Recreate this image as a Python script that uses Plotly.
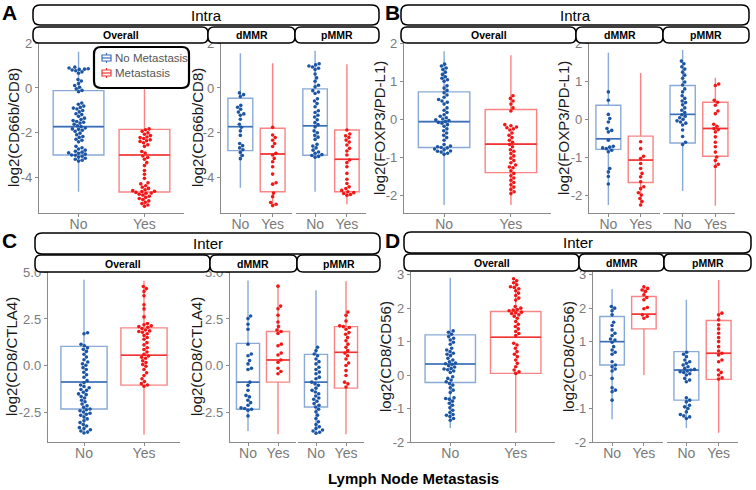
import math
import plotly.graph_objects as go

# ---------------- data ----------------
CATS = ["No", "Yes"]
FACETS = ["Overall", "dMMR", "pMMR"]
PANEL_LETTERS = ["A", "B", "C", "D"]
PANEL_STRIPS = ["Intra", "Intra", "Inter", "Inter"]
Y_TITLES = ["log2(CD66b/CD8)", "log2(FOXP3/PD-L1)", "log2(CD8/CTLA4)", "log2(CD8/CD56)"]
LEGEND_LABELS = ["No Metastasis", "Metastasis"]
X_TITLE = "Lymph Node Metastasis"

A_YTICKS = [-4, -2, 0, 2]
B_YTICKS = [-2, -1, 0, 1, 2]
C_YTICKS = [-2.5, 0.0, 2.5, 5.0]
D_YTICKS = [-2, -1, 0, 1, 2, 3]
A_YTEXT = ["-4", "-2", "0", "2"]
B_YTEXT = ["-2", "-1", "0", "1", "2"]
C_YTEXT = ["-2.5", "0.0", "2.5", "5.0"]
D_YTEXT = ["-2", "-1", "0", "1", "2", "3"]

# box statistics, order: Overall-No, Overall-Yes, dMMR-No, dMMR-Yes, pMMR-No, pMMR-Yes
A_LO = [-4.64, -5.30, -4.46, -5.26, -4.64, -5.20]
A_Q1 = [-3.00, -4.65, -2.80, -4.64, -3.01, -4.64]
A_MED = [-1.73, -3.00, -1.73, -2.95, -1.69, -3.19]
A_Q3 = [-0.12, -1.85, -0.46, -1.80, -0.04, -1.88]
A_HI = [1.62, 1.10, 1.55, 1.10, 1.66, 1.06]

B_LO = [-2.25, -2.25, -2.25, -2.27, -1.88, -2.27]
B_Q1 = [-0.74, -1.40, -0.79, -1.66, -0.62, -0.97]
B_MED = [-0.06, -0.65, -0.51, -1.07, 0.13, -0.24]
B_Q3 = [0.72, 0.26, 0.37, -0.44, 0.89, 0.45]
B_HI = [1.79, 1.68, 1.75, 1.22, 1.82, 1.09]

C_LO = [-3.55, -3.70, -3.51, -3.69, -3.69, -3.69]
C_Q1 = [-2.33, -1.05, -2.34, -0.89, -2.22, -1.21]
C_MED = [-0.88, 0.55, -0.89, 0.30, -0.89, 0.71]
C_Q3 = [1.03, 2.02, 1.19, 1.83, 0.60, 2.09]
C_HI = [4.61, 4.55, 4.57, 4.29, 4.04, 4.52]

D_LO = [-1.58, -1.72, -1.32, 0.00, -1.58, -1.72]
D_Q1 = [-0.22, 0.05, 0.30, 1.38, -0.75, -0.13]
D_MED = [0.33, 1.13, 1.00, 1.82, 0.15, 0.65]
D_Q3 = [1.20, 1.90, 1.75, 2.35, 0.70, 1.63]
D_HI = [2.91, 2.84, 2.57, 2.66, 2.25, 2.84]

# individual points
A_OV_NO = [0.93, 0.89, 0.86, 0.84, 0.83, 0.80, 0.77, 0.72, 0.66, 0.38, 0.31, 0.20, 0.11, 0.03, -0.04, -0.11,
           -0.17, -0.67, -0.73, -0.81, -0.87, -0.90, -0.94, -1.01, -1.07, -1.15, -1.19, -1.27, -1.35, -1.41,
           -1.46, -1.50, -1.53, -1.57, -1.62, -1.69, -1.73, -1.79, -1.83, -1.85, -1.89, -1.94, -2.02, -2.09,
           -2.17, -2.21, -2.29, -2.34, -2.41, -2.61, -2.67, -2.73, -2.78, -2.83, -2.87, -2.90, -2.92, -2.96,
           -3.00, -3.01, -3.05, -3.09, -3.14, -3.19, -3.23, -3.27]
A_OV_YES = [-1.83, -1.87, -1.94, -2.01, -2.07, -2.13, -2.19, -2.22, -2.26, -2.32, -2.36, -2.39, -2.45, -2.54,
            -2.61, -2.84, -2.91, -3.04, -3.11, -3.19, -3.34, -3.47, -3.69, -3.86, -4.04, -4.24, -4.29, -4.37,
            -4.44, -4.49, -4.55, -4.59, -4.62, -4.63, -4.67, -4.70, -4.71, -4.75, -4.79, -4.84, -4.89, -4.94,
            -4.99, -5.05, -5.11, -5.17, -5.23, -5.29]
A_D_NO = [-0.22, -0.30, -0.38, -0.78, -0.86, -0.95, -1.08, -1.16, -1.22, -1.40, -1.62, -1.76, -1.92, -2.12,
          -2.48, -2.58, -2.68, -2.76, -2.88, -3.02, -3.16]
A_D_YES = [-1.76, -2.10, -2.22, -2.34, -2.48, -2.62, -2.92, -3.00, -3.15, -3.30, -3.52, -3.85, -4.24, -4.30,
           -4.70, -4.86, -5.12, -5.20, -5.26]
A_P_NO = [1.08, 1.03, 0.98, 0.94, 0.88, 0.82, 0.62, 0.45, 0.30, 0.12, 0.05, -0.12, -0.18, -0.25, -0.48, -0.58,
          -0.70, -0.84, -1.02, -1.10, -1.22, -1.30, -1.42, -1.55, -1.64, -1.74, -1.92, -2.00, -2.12, -2.20,
          -2.30, -2.52, -2.60, -2.68, -2.78, -2.86, -2.92, -2.98, -3.02, -3.06, -3.10]
A_P_YES = [-1.88, -2.06, -2.14, -2.22, -2.33, -2.42, -2.55, -2.70, -2.82, -3.00, -3.22, -3.34, -3.52, -3.82,
           -4.08, -4.27, -4.42, -4.50, -4.58, -4.64, -4.68, -4.72, -4.76, -4.80]

B_OV_NO = [1.45, 1.40, 1.35, 1.31, 1.24, 1.18, 1.12, 1.08, 1.04, 0.88, 0.82, 0.76, 0.70, 0.64, 0.58, 0.52,
           0.48, 0.45, 0.30, 0.24, 0.18, 0.12, 0.08, 0.04, 0.01, -0.03, -0.06, -0.10, -0.14, -0.18, -0.25,
           -0.30, -0.36, -0.42, -0.48, -0.55, -0.66, -0.70, -0.72, -0.75, -0.78, -0.80, -0.83, -0.86, -0.89,
           -0.92, 1.00, 0.40, -0.01, -0.08, -0.74, -0.84]
B_OV_YES = [0.62, 0.55, 0.48, 0.40, 0.30, 0.22, -0.14, -0.17, -0.20, -0.22, -0.25, -0.36, -0.42, -0.48, -0.55,
            -0.60, -0.66, -0.72, -0.84, -0.90, -0.96, -1.02, -1.08, -1.14, -1.20, -1.27, -1.35, -1.42, -1.48,
            -1.54, -1.60, -1.66, -1.72, -1.78, -1.84, -1.90, -1.95, -0.28, -0.80, -1.25]
B_D_NO = [0.72, 0.50, 0.13, 0.02, -0.07, -0.24, -0.29, -0.33, -0.55, -0.71, -0.73, -0.75, -0.77, -0.81, -0.85,
          -1.29, -1.38, -1.50, -1.70]
B_D_YES = [-0.59, -0.77, -0.97, -1.03, -1.16, -1.29, -1.42, -1.51, -1.64, -1.77, -1.82, -1.93, -1.99, -2.08,
           -2.16, -2.25]
B_P_NO = [1.53, 1.46, 1.38, 1.32, 1.24, 1.16, 1.08, 0.98, 0.90, 0.80, 0.72, 0.62, 0.55, 0.48, 0.44, 0.38, 0.30,
          0.24, 0.18, 0.12, 0.08, 0.04, 0.00, -0.04, -0.07, -0.10, -0.15, -0.28, -0.45, -0.60, -0.66]
B_P_YES = [0.93, 0.89, 0.50, 0.45, 0.37, 0.22, 0.15, -0.13, -0.18, -0.24, -0.27, -0.33, -0.46, -0.60, -0.72,
           -0.86, -0.99, -1.08, -1.18, -1.24]

C_OV_NO = [1.76, 1.71, 1.14, 1.06, 0.95, 0.87, 0.76, 0.61, 0.46, 0.31, 0.19, 0.10, 0.02, -0.11, -0.21, -0.36,
           -0.49, -0.63, -0.81, -0.92, -1.04, -1.12, -1.19, -1.28, -1.33, -1.43, -1.52, -1.56, -1.66, -1.74,
           -1.86, -1.94, -2.06, -2.16, -2.24, -2.33, -2.37, -2.42, -2.49, -2.56, -2.61, -2.67, -2.76, -2.86,
           -2.96, -3.06, -3.16, -3.24, -3.33, -3.38, -3.44, -3.51, -3.57, -3.62]
C_OV_YES = [4.24, 4.13, 3.98, 3.74, 3.26, 3.04, 2.61, 2.26, 2.19, 2.13, 2.06, 1.99, 1.91, 1.86, 1.79, 1.71,
            1.61, 1.51, 1.41, 1.23, 1.11, 0.96, 0.86, 0.73, 0.61, 0.51, 0.39, 0.26, 0.16, 0.06, -0.04, -0.21,
            -0.39, -0.53, -0.71, -0.86, -0.97, -1.04, -1.11, 2.09, 1.83, 0.45]
C_D_NO = [2.66, 2.52, 2.22, 1.95, 1.15, 0.62, 0.53, 0.27, 0.09, -0.14, -0.21, -0.89, -1.06, -1.33, -1.60,
          -1.68, -1.86, -1.99, -2.13, -2.27, -2.30, -2.34, -2.39, -2.70]
C_D_YES = [4.26, 3.19, 3.05, 2.70, 2.34, 2.09, 1.91, 1.83, 1.72, 1.15, 1.06, 0.67, 0.57, 0.30, 0.18, -0.14,
           -0.32, -0.44]
C_P_NO = [0.98, 0.80, 0.62, 0.53, 0.35, 0.21, 0.09, -0.09, -0.21, -0.35, -0.44, -0.62, -0.71, -0.89, -0.98,
          -1.06, -1.21, -1.33, -1.42, -1.51, -1.63, -1.74, -1.81, -1.91, -2.04, -2.13, -2.22, -2.34, -2.48,
          -2.66, -2.84, -3.01, -3.16, -3.28, -3.37, -3.46, -3.51, -3.58, -3.63]
C_P_YES = [2.87, 2.70, 2.39, 2.13, 2.09, 2.04, 1.95, 1.77, 1.68, 1.51, 1.33, 1.15, 0.98, 0.80, 0.67, 0.53,
           0.35, 0.14, 0.00, -0.27, -0.53, -0.89, -0.98, -1.15]

D_OV_NO = [1.32, 1.28, 1.22, 1.15, 1.10, 1.05, 0.98, 0.92, 0.80, 0.75, 0.70, 0.65, 0.58, 0.50, 0.45, 0.40,
           0.36, 0.32, 0.28, 0.24, 0.20, 0.16, 0.12, 0.08, -0.05, -0.10, -0.15, -0.20, -0.25, -0.30, -0.38,
           -0.45, -0.52, -0.68, -0.72, -0.78, -0.84, -0.90, -0.98, -1.05, -1.12, -1.18, -1.24, -1.30, -1.35,
           0.62, 0.34, 0.18, -0.70, -1.20]
D_OV_YES = [2.88, 2.82, 2.76, 2.70, 2.64, 2.58, 2.52, 2.45, 2.38, 2.30, 2.24, 2.05, 2.00, 1.96, 1.92, 1.88,
            1.84, 1.80, 1.76, 1.70, 1.60, 1.52, 1.45, 1.38, 1.30, 1.24, 1.18, 0.95, 0.90, 0.80, 0.70, 0.62,
            0.55, 0.45, 0.35, 0.25, 0.15, 0.10, 0.05, 1.94, 1.86, 2.62]
D_D_NO = [2.05, 2.00, 1.92, 1.80, 1.58, 1.48, 1.35, 1.25, 1.18, 1.08, 1.05, 0.98, 0.85, 0.75, 0.68, 0.62, 0.40,
          0.30, 0.25, 0.18, 0.12, -0.10, -0.38, -0.45, -0.50, -0.75]
D_D_YES = [2.64, 2.59, 2.54, 2.50, 2.40, 2.32, 2.25, 2.02, 1.98, 1.80, 1.75, 1.70]
D_P_NO = [0.68, 0.62, 0.55, 0.45, 0.35, 0.30, 0.25, 0.20, 0.15, 0.12, 0.10, 0.08, 0.04, 0.00, -0.10, -0.15,
          -0.20, -0.68, -0.75, -0.80, -0.90, -0.95, -1.00, -1.10, -1.18, -1.22, -1.25, -1.30, 0.40, 0.17]
D_P_YES = [1.85, 1.80, 1.65, 1.50, 1.38, 1.25, 1.12, 1.00, 0.85, 0.72, 0.65, 0.60, 0.45, 0.40, 0.15, 0.08,
           0.00, -0.08, -0.12]

# ---------------- styling / layout geometry (pixels) ----------------
W, H = 756, 490
FONT = "Liberation Sans, Arial, Helvetica, sans-serif"
BLUE_PT, RED_PT = "#1B55A3", "#F21616"
BLUE_BOX, RED_BOX = "rgba(40,100,180,0.55)", "rgba(245,30,30,0.55)"
BLUE_MED, RED_MED = "#3A6FB8", "#F03434"
AXIS_COL = "#8a8a8a"
TICK_COL = "#7a7a7a"

PANELS = [
    dict(ov=(39, 184), d=(221, 292), p=(296, 366), y=(43, 213), yr=(-5.59, 2.01),
         top=(33, 379, 5, 25), sub_y=(27, 43), subs=[(33, 208), (208, 295), (295, 379)],
         letter=(9, 13), ytl=13, ytr=197,
         lo=A_LO, q1=A_Q1, med=A_MED, q3=A_Q3, hi=A_HI,
         pts=[A_OV_NO, A_OV_YES, A_D_NO, A_D_YES, A_P_NO, A_P_YES], ticks=(A_YTICKS, A_YTEXT)),
    dict(ov=(404, 551), d=(589, 660), p=(663, 735), y=(43, 213), yr=(-2.46, 2.005),
         top=(401, 749, 5, 25), sub_y=(27, 43), subs=[(401, 576), (576, 663), (663, 749)],
         letter=(392, 13), ytl=379, ytr=563,
         lo=B_LO, q1=B_Q1, med=B_MED, q3=B_Q3, hi=B_HI,
         pts=[B_OV_NO, B_OV_YES, B_D_NO, B_D_YES, B_P_NO, B_P_YES], ticks=(B_YTICKS, B_YTEXT)),
    dict(ov=(48, 180), d=(230, 296), p=(298, 364), y=(272, 442), yr=(-4.10, 5.02),
         top=(35, 380, 233, 254), sub_y=(255, 272), subs=[(35, 210), (210, 297), (297, 380)],
         letter=(9, 240), ytl=11, ytr=196,
         lo=C_LO, q1=C_Q1, med=C_MED, q3=C_Q3, hi=C_HI,
         pts=[C_OV_NO, C_OV_YES, C_D_NO, C_D_YES, C_P_NO, C_P_YES], ticks=(C_YTICKS, C_YTEXT)),
    dict(ov=(411, 555), d=(593, 663), p=(667, 738), y=(272, 442), yr=(-2.0, 3.08),
         top=(404, 751, 232, 253), sub_y=(254, 271), subs=[(404, 579), (579, 664), (664, 751)],
         letter=(392, 240), ytl=385, ytr=568,
         lo=D_LO, q1=D_Q1, med=D_MED, q3=D_Q3, hi=D_HI,
         pts=[D_OV_NO, D_OV_YES, D_D_NO, D_D_YES, D_P_NO, D_P_YES], ticks=(D_YTICKS, D_YTEXT)),
]


def fx(px):
    return px / W


def fy(py):
    return 1 - py / H


def swarm(vals, ppu_y, ppu_x, d=3.7):
    """Deterministic beeswarm offsets (data units along x)."""
    order = sorted(range(len(vals)), key=lambda i: vals[i])
    placed = []
    out = [0.0] * len(vals)
    for i in order:
        y = vals[i] * ppu_y
        cands = [0.0]
        for (px, py) in placed:
            dy = abs(py - y)
            if dy < d:
                dx = math.sqrt(d * d - dy * dy)
                cands += [px + dx, px - dx]
        cands.sort(key=lambda c: (round(abs(c), 6), -c))
        chosen = 0.0
        for c in cands:
            if all((c - px) ** 2 + (y - py) ** 2 >= d * d - 1e-6 for (px, py) in placed):
                chosen = c
                break
        placed.append((chosen, y))
        out[i] = chosen / ppu_x
    return out


def rrect(x0, y0, x1, y1, r):
    X = lambda p: f"{fx(p):.5f}"
    Y = lambda p: f"{fy(p):.5f}"
    return (f"M {X(x0 + r)},{Y(y0)} L {X(x1 - r)},{Y(y0)} Q {X(x1)},{Y(y0)} {X(x1)},{Y(y0 + r)} "
            f"L {X(x1)},{Y(y1 - r)} Q {X(x1)},{Y(y1)} {X(x1 - r)},{Y(y1)} "
            f"L {X(x0 + r)},{Y(y1)} Q {X(x0)},{Y(y1)} {X(x0)},{Y(y1 - r)} "
            f"L {X(x0)},{Y(y0 + r)} Q {X(x0)},{Y(y0)} {X(x0 + r)},{Y(y0)} Z")


fig = go.Figure()
layout = {}
shapes = []
annotations = []
count = {"x": 0, "y": 0}


def new_axis(kind):
    count[kind] += 1
    n = count[kind]
    return (kind if n == 1 else f"{kind}{n}"), (f"{kind}axis" if n == 1 else f"{kind}axis{n}")


XR = [-0.6, 1.6]
BOXW = 0.77
common = dict(showgrid=False, zeroline=False, showline=True, linecolor=AXIS_COL, linewidth=1.4,
              ticks="outside", ticklen=3, tickwidth=1, tickcolor=AXIS_COL, automargin=False,
              fixedrange=True)

for pi, P in enumerate(PANELS):
    y0, y1 = P["y"]
    yd = [fy(y1), fy(y0)]
    xo, xok = new_axis("x")
    yo, yok = new_axis("y")
    xd, xdk = new_axis("x")
    yrr, yrk = new_axis("y")
    xp, xpk = new_axis("x")
    tv, tt = P["ticks"]
    for key, dom, anc in [(xok, P["ov"], yo), (xdk, P["d"], yrr), (xpk, P["p"], yrr)]:
        layout[key] = dict(domain=[fx(dom[0]), fx(dom[1])], range=XR, anchor=anc,
                           tickvals=[0, 1], ticktext=CATS, ticklabelstandoff=-5,
                           tickfont=dict(family=FONT, size=14, color=TICK_COL), **common)
    for key, anc in [(yok, xo), (yrk, xd)]:
        layout[key] = dict(domain=yd, range=list(P["yr"]), anchor=anc, tickvals=tv, ticktext=tt,
                           tickfont=dict(family=FONT, size=13, color=TICK_COL), **common)

    ppu_y = (y1 - y0) / (P["yr"][1] - P["yr"][0])
    facet_axes = [(xo, yo, P["ov"]), (xd, yrr, P["d"]), (xp, yrr, P["p"])]
    for fi, (xa, ya, dom) in enumerate(facet_axes):
        ppu_x = (dom[1] - dom[0]) / (XR[1] - XR[0])
        for ci in range(2):
            k = fi * 2 + ci
            boxc = BLUE_BOX if ci == 0 else RED_BOX
            medc = BLUE_MED if ci == 0 else RED_MED
            ptc = BLUE_PT if ci == 0 else RED_PT
            fig.add_trace(go.Box(x=[ci], q1=[P["q1"][k]], median=[P["med"][k]], q3=[P["q3"][k]],
                                 lowerfence=[P["lo"][k]], upperfence=[P["hi"][k]],
                                 width=BOXW, whiskerwidth=0, boxpoints=False,
                                 line=dict(color=boxc, width=1.4), fillcolor="rgba(255,255,255,0)",
                                 xaxis=xa, yaxis=ya, showlegend=False, hoverinfo="skip"))
            fig.add_trace(go.Scatter(x=[ci - BOXW / 2, ci + BOXW / 2], y=[P["med"][k]] * 2, mode="lines",
                                     line=dict(color=medc, width=1.6), xaxis=xa, yaxis=ya,
                                     showlegend=False, hoverinfo="skip"))
            vals = P["pts"][k]
            offs = swarm(vals, ppu_y, ppu_x)
            fig.add_trace(go.Scatter(x=[ci + o for o in offs], y=vals, mode="markers",
                                     marker=dict(color=ptc, size=3.6, line=dict(width=0)),
                                     xaxis=xa, yaxis=ya, showlegend=False, hoverinfo="skip"))

    # strips
    tx0, tx1, ty0, ty1 = P["top"]
    shapes.append(dict(type="path", xref="paper", yref="paper", path=rrect(tx0, ty0, tx1, ty1, 7),
                       line=dict(color="black", width=1.5), fillcolor="white", layer="above"))
    annotations.append(dict(x=fx((tx0 + tx1) / 2), y=fy((ty0 + ty1) / 2), xref="paper", yref="paper",
                            text=PANEL_STRIPS[pi], showarrow=False, xanchor="center", yanchor="middle",
                            font=dict(family=FONT, size=15, color="black")))
    sy0, sy1 = P["sub_y"]
    for (sx0, sx1), name in zip(P["subs"], FACETS):
        shapes.append(dict(type="path", xref="paper", yref="paper", path=rrect(sx0, sy0, sx1, sy1, 6),
                           line=dict(color="black", width=1.5), fillcolor="white", layer="above"))
        annotations.append(dict(x=fx((sx0 + sx1) / 2), y=fy((sy0 + sy1) / 2), xref="paper", yref="paper",
                                text=f"<b>{name}</b>", showarrow=False, xanchor="center", yanchor="middle",
                                font=dict(family=FONT, size=10.5, color="black")))
    # panel letter
    lx, ly = P["letter"]
    annotations.append(dict(x=fx(lx), y=fy(ly), xref="paper", yref="paper", text=f"<b>{PANEL_LETTERS[pi]}</b>",
                            showarrow=False, xanchor="center", yanchor="middle",
                            font=dict(family=FONT, size=21, color="black")))
    # y titles
    for xt in (P["ytl"], P["ytr"]):
        annotations.append(dict(x=fx(xt), y=fy((y0 + y1) / 2), xref="paper", yref="paper", text=Y_TITLES[pi],
                                textangle=-90, showarrow=False, xanchor="center", yanchor="middle",
                                font=dict(family=FONT, size=15, color="#1a1a1a")))

# legend (custom, rounded box)
shapes.append(dict(type="path", xref="paper", yref="paper", path=rrect(94, 47, 189, 88, 7),
                   line=dict(color="black", width=2.2), fillcolor="white", layer="above"))
for row, (lab, col) in enumerate(zip(LEGEND_LABELS, [BLUE_MED, RED_MED])):
    cy = 58 + row * 15
    shapes.append(dict(type="rect", xref="paper", yref="paper", x0=fx(102), x1=fx(111), y0=fy(cy - 3),
                       y1=fy(cy + 3), line=dict(color=col, width=1.2), fillcolor="white", layer="above"))
    for (a, b) in [((102, cy), (111, cy)), ((106.5, cy - 5), (106.5, cy - 3)), ((106.5, cy + 3), (106.5, cy + 5))]:
        shapes.append(dict(type="line", xref="paper", yref="paper", x0=fx(a[0]), y0=fy(a[1]), x1=fx(b[0]),
                           y1=fy(b[1]), line=dict(color=col, width=1.2), layer="above"))
    annotations.append(dict(x=fx(113), y=fy(cy), xref="paper", yref="paper", text=lab, showarrow=False,
                            xanchor="left", yanchor="middle", font=dict(family=FONT, size=11.5, color="#555555")))

annotations.append(dict(x=fx(413), y=fy(478), xref="paper", yref="paper", text=f"<b>{X_TITLE}</b>",
                        showarrow=False, xanchor="center", yanchor="middle",
                        font=dict(family=FONT, size=15, color="black")))

fig.update_layout(width=W, height=H, margin=dict(l=0, r=0, t=0, b=0, pad=0, autoexpand=False),
                  paper_bgcolor="white", plot_bgcolor="white", showlegend=False, shapes=shapes,
                  annotations=annotations, font=dict(family=FONT), **layout)
fig.write_html("out.html", config={"displayModeBar": False},
               post_script="document.body.style.margin='0px';document.body.style.overflow='hidden';")
